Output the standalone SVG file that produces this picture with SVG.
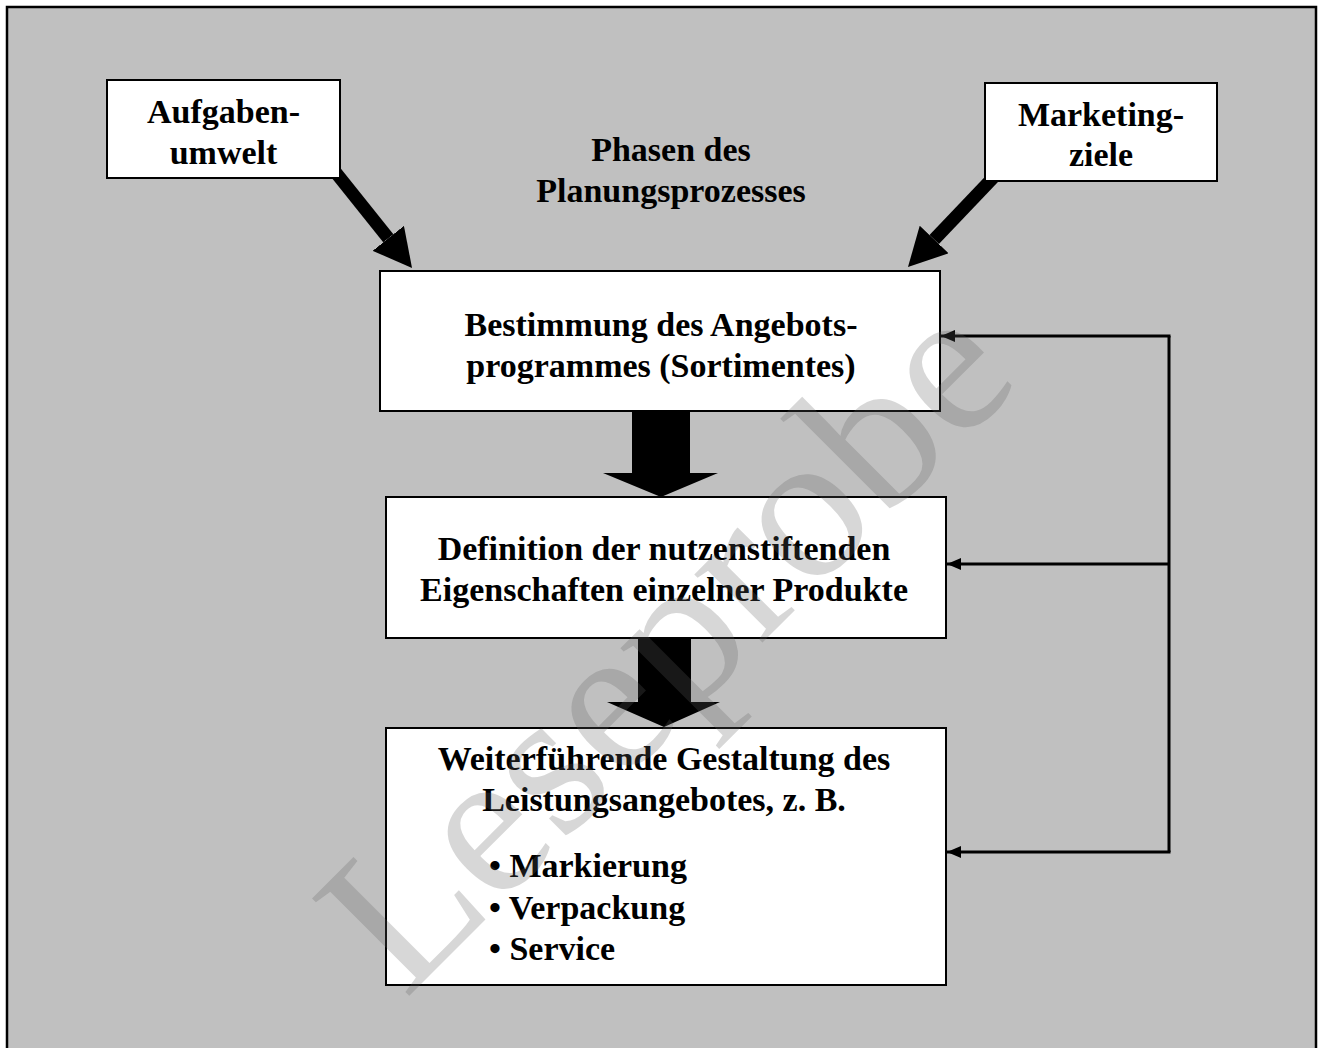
<svg xmlns="http://www.w3.org/2000/svg" width="1321" height="1048" viewBox="0 0 1321 1048">
  <defs>
    <style>
      .box { fill: #ffffff; stroke: #000000; stroke-width: 2; }
      .t { font-family: "Liberation Serif", "Times New Roman", serif; font-weight: bold; font-size: 34px; fill: #000000; text-anchor: middle; }
      .tl { text-anchor: start; }
      .thick { stroke: #000000; stroke-width: 13; fill: none; }
      .fb { stroke: #000000; stroke-width: 3; fill: none; }
      .block { fill: #000000; }
      .wm { font-family: "Liberation Serif", "Times New Roman", serif; font-size: 210px; fill: #606060; fill-opacity: 0.25; }
    </style>
    <marker id="bigHead" viewBox="0 0 38 40" refX="0" refY="20" markerWidth="38" markerHeight="40" markerUnits="userSpaceOnUse" orient="auto">
      <path d="M0,0 L38,20 L0,40 Z" fill="#000000"/>
    </marker>
    <marker id="smallHead" viewBox="0 0 14 12" refX="14" refY="6" markerWidth="14" markerHeight="12" markerUnits="userSpaceOnUse" orient="auto">
      <path d="M0,0 L14,6 L0,12 Z" fill="#000000"/>
    </marker>
  </defs>

  <rect x="0" y="0" width="1321" height="1048" fill="#ffffff"/>
  <rect id="frame" x="7" y="7" width="1309" height="1052" fill="#c0c0c0" stroke="#000000" stroke-width="2.5"/>

  <g id="connectors">
    <line class="thick" x1="333.7" y1="170" x2="388.3" y2="238.3" marker-end="url(#bigHead)"/>
    <line class="thick" x1="998.5" y1="172" x2="934.2" y2="239.5" marker-end="url(#bigHead)"/>
    <path class="block" d="M632,411 L690,411 L690,473 L718,473 L661,497 L603,473 L632,473 Z"/>
    <path class="block" d="M638,638 L691,638 L691,702 L720,702 L664,727 L607,702 L638,702 Z"/>
    <polyline class="fb" points="1169,336 1169,852"/>
    <line class="fb" x1="1170.5" y1="336" x2="941" y2="336" marker-end="url(#smallHead)"/>
    <line class="fb" x1="1169" y1="564" x2="947" y2="564" marker-end="url(#smallHead)"/>
    <line class="fb" x1="1170.5" y1="852" x2="947" y2="852" marker-end="url(#smallHead)"/>
  </g>

  <g id="node-aufgabenumwelt">
    <rect class="box" x="107" y="80" width="233" height="98"/>
    <text class="t" x="223.5" y="123">Aufgaben-</text>
    <text class="t" x="223.5" y="164">umwelt</text>
  </g>

  <g id="node-marketingziele">
    <rect class="box" x="985" y="83" width="232" height="98"/>
    <text class="t" x="1101" y="126">Marketing-</text>
    <text class="t" x="1101" y="166">ziele</text>
  </g>

  <g id="title">
    <text class="t" x="671" y="161">Phasen des</text>
    <text class="t" x="671" y="202">Planungsprozesses</text>
  </g>

  <g id="node-bestimmung">
    <rect class="box" x="380" y="271" width="560" height="140"/>
    <text class="t" x="661" y="336">Bestimmung des Angebots-</text>
    <text class="t" x="661" y="377">programmes (Sortimentes)</text>
  </g>

  <g id="node-definition">
    <rect class="box" x="386" y="497" width="560" height="141"/>
    <text class="t" x="664" y="560">Definition der nutzenstiftenden</text>
    <text class="t" x="664" y="601">Eigenschaften einzelner Produkte</text>
  </g>

  <g id="node-gestaltung">
    <rect class="box" x="386" y="728" width="560" height="257"/>
    <text class="t" x="664" y="770">Weiterführende Gestaltung des</text>
    <text class="t" x="664" y="811">Leistungsangebotes, z. B.</text>
    <text class="t tl" x="489" y="877">• Markierung</text>
    <text class="t tl" x="489" y="919">• Verpackung</text>
    <text class="t tl" x="489" y="960">• Service</text>
  </g>

  <text class="wm" transform="translate(405,1000) rotate(-45)">Leseprobe</text>
</svg>
